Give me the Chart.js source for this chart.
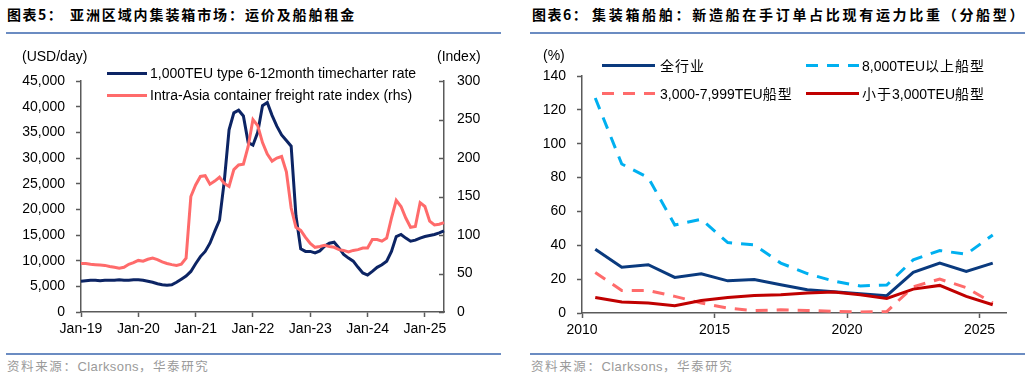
<!DOCTYPE html>
<html><head><meta charset="utf-8">
<script src="https://cdn.jsdelivr.net/npm/chart.js@4.4.1/dist/chart.umd.min.js"></script>
<style>
body{margin:0;width:1030px;height:378px;position:relative;background:#fff;font-family:"Liberation Sans",Arial,sans-serif;overflow:hidden}
.t{position:absolute;font-family:"Noto Sans CJK SC";font-weight:bold;font-size:14px;letter-spacing:1.9px;color:#000;top:4px;line-height:20px;white-space:nowrap}
.hr{position:absolute;height:2px;background:#6b8cc2}
.src{position:absolute;top:357px;font-size:12.5px;line-height:18px;color:#9a9a9a;font-family:"Noto Sans CJK SC";letter-spacing:1.6px;white-space:nowrap}
.ax{position:absolute;font-size:14px;line-height:16px;color:#000;white-space:nowrap}
.lg{position:absolute;font-size:14px;line-height:16px;color:#000;white-space:nowrap}
.cj{font-family:"Noto Sans CJK SC";letter-spacing:1px}
.sw{position:absolute;height:3px}
canvas{position:absolute}
</style>
</head>
<body>
<div class="t" style="left:7px;letter-spacing:1.5px">图表5：</div>
<div class="t" style="left:70px">亚洲区域内集装箱市场：运价及船舶租金</div>
<div class="t" style="left:532px;letter-spacing:1.5px">图表6：</div>
<div class="t" style="left:592px;letter-spacing:2.7px">集装箱船舶：新造船在手订单占比现有运力比重（分船型）</div>
<div class="hr" style="left:6px;width:495px;top:32px"></div>
<div class="hr" style="left:530px;width:495px;top:32px"></div>
<div class="hr" style="left:6px;width:495px;top:353px;height:1.5px"></div>
<div class="hr" style="left:530px;width:495px;top:353px;height:1.5px"></div>
<div class="src" style="left:7px">资料来源：<span style="font-family:'Liberation Sans';letter-spacing:0.4px;font-size:13px">Clarksons</span>，华泰研究</div>
<div class="src" style="left:531px">资料来源：<span style="font-family:'Liberation Sans';letter-spacing:0.4px;font-size:13px">Clarksons</span>，华泰研究</div>

<canvas id="c1" width="515" height="378" style="left:0;top:0"></canvas>
<canvas id="c2" width="515" height="378" style="left:515px;top:0"></canvas>

<div class="ax" style="left:22px;top:48px">(USD/day)</div>
<div class="ax" style="left:437px;top:48px">(Index)</div>
<div class="ax" style="left:543px;top:47px">(%)</div>

<div class="sw" style="left:107px;width:40px;top:72px;background:#0c2464"></div>
<div class="lg" style="left:150px;top:65px">1,000TEU type 6-12month timecharter rate</div>
<div class="sw" style="left:107px;width:40px;top:94px;background:#ff6b6b"></div>
<div class="lg" style="left:150px;top:87px">Intra-Asia container freight rate index (rhs)</div>

<div class="sw" style="left:602px;width:53px;top:64px;background:#0a3a7e"></div>
<div class="lg cj" style="left:660px;top:57px">全行业</div>
<div class="sw" style="left:806px;width:53px;top:64px;background:repeating-linear-gradient(to right,#00b0f0 0 12px,transparent 12px 21px)"></div>
<div class="lg" style="left:862px;top:57px">8,000TEU<span class="cj">以上船型</span></div>
<div class="sw" style="left:602px;width:53px;top:92px;background:repeating-linear-gradient(to right,#ff6b6b 0 12px,transparent 12px 21px)"></div>
<div class="lg" style="left:660px;top:85px">3,000-7,999TEU<span class="cj">船型</span></div>
<div class="sw" style="left:806px;width:53px;top:92px;background:#c00000"></div>
<div class="lg" style="left:862px;top:85px"><span class="cj">小于</span>3,000TEU<span class="cj">船型</span></div>

<script>
// ---------- Chart 5 data ----------
const months = [
 "Jan-19","Feb-19","Mar-19","Apr-19","May-19","Jun-19","Jul-19","Aug-19","Sep-19","Oct-19","Nov-19","Dec-19",
 "Jan-20","Feb-20","Mar-20","Apr-20","May-20","Jun-20","Jul-20","Aug-20","Sep-20","Oct-20","Nov-20","Dec-20",
 "Jan-21","Feb-21","Mar-21","Apr-21","May-21","Jun-21","Jul-21","Aug-21","Sep-21","Oct-21","Nov-21","Dec-21",
 "Jan-22","Feb-22","Mar-22","Apr-22","May-22","Jun-22","Jul-22","Aug-22","Sep-22","Oct-22","Nov-22","Dec-22",
 "Jan-23","Feb-23","Mar-23","Apr-23","May-23","Jun-23","Jul-23","Aug-23","Sep-23","Oct-23","Nov-23","Dec-23",
 "Jan-24","Feb-24","Mar-24","Apr-24","May-24","Jun-24","Jul-24","Aug-24","Sep-24","Oct-24","Nov-24","Dec-24",
 "Jan-25","Feb-25","Mar-25","Apr-25","May-25"];
const monthTickLabels = ["Jan-19","Jan-20","Jan-21","Jan-22","Jan-23","Jan-24","Jan-25"];
const charterRate = [
 6000,6100,6200,6200,6100,6200,6200,6200,6300,6200,6200,6300,
 6300,6200,6000,5800,5500,5300,5200,5300,5800,6400,7000,7900,
 9400,10800,11800,13400,15700,17900,25500,35500,38800,39300,38200,33000,
 32500,35000,40200,40800,38300,36200,34500,33400,32300,18800,12300,11800,
 11800,11500,11900,12800,13400,13600,12500,11200,10500,9900,8700,7600,
 7200,7900,8700,9200,9900,11800,14700,15100,14400,13800,14000,14400,
 14700,14900,15100,15400,15800];
const freightIndex = [
 63,63,62,61.5,61,60.5,59,58,57,58,62,64,
 67,66,68.5,70,68,65,63,61.5,60.5,62,70,150,
 165,176,177,166,170,175,167,163,185,191,192,215,
 250,242,220,205,196,200,202,182,135,110,106,97,
 89,84,85,86.5,85,84,81,80,78,80,81,83,
 83,94,94,92,96,122,145,137,122,110,111,142,
 137,118,113,114,116];
const leftTicks = [0,5000,10000,15000,20000,25000,30000,35000,40000,45000];
const rightTicks = [0,50,100,150,200,250,300];

// ---------- Chart 6 data ----------
const years = [2010,2011,2012,2013,2014,2015,2016,2017,2018,2019,2020,2021,2022,2023,2024,2025];
const yearTicks = [2010,2015,2020,2025];
const allIndustry = [37.7,27.1,28.5,21.0,23.2,19.0,19.8,16.7,13.7,12.5,11.4,10.2,24.0,29.5,24.5,29.5];
const over8000 = [127,88,80,52,55.4,41.6,40.2,29.5,23.3,18.8,16.0,16.5,31.4,36.9,34.7,46.1];
const mid3000to7999 = [23.9,13.3,13.3,9.8,5.9,2.9,1.4,1.9,1.5,1.0,0.6,0.8,15.5,20.0,15.0,5.9];
const under3000 = [9.2,6.5,5.9,4.3,7.4,9.2,10.4,10.8,11.8,12.4,10.8,8.6,14.1,16.3,9.8,4.9];
const pctTicks = [0,20,40,60,80,100,120,140];

const AX = '#5a5a5a';
const F14 = {family:"'Liberation Sans', Arial, sans-serif", size:14};

const innerTicks = {
  id:'innerTicks',
  afterDraw(chart){
    const s = chart.scales.y1; if(!s) return;
    const c = chart.ctx; c.save(); c.strokeStyle = AX; c.lineWidth = 1.5;
    s.ticks.forEach(t=>{ const y = Math.round(s.getPixelForValue(t.value))+0.5;
      c.beginPath(); c.moveTo(s.left-5, y); c.lineTo(s.left, y); c.stroke(); });
    c.restore();
  }
};

new Chart(document.getElementById('c1'), {
  type:'line',
  data:{ labels: months, datasets:[
    {label:'1,000TEU type 6-12month timecharter rate', data:charterRate, yAxisID:'y', borderColor:'#0c2464', borderWidth:3, pointRadius:0, tension:0, order:1},
    {label:'Intra-Asia container freight rate index (rhs)', data:freightIndex, yAxisID:'y1', borderColor:'#ff6b6b', borderWidth:3, pointRadius:0, tension:0, order:0}
  ]},
  plugins:[innerTicks],
  options:{
    responsive:false, animation:false,
    layout:{padding:{top:81, left:0, right:0, bottom:0}},
    plugins:{legend:{display:false}, tooltip:{enabled:false}},
    scales:{
      x:{ type:'category', offset:false,
          grid:{display:true, drawOnChartArea:false, tickLength:5, tickWidth:1.5,
                tickColor:(ctx)=> (ctx.tick && monthTickLabels.includes(months[ctx.index])) ? AX : 'rgba(0,0,0,0)'},
          border:{color:AX, width:1.5},
          ticks:{autoSkip:false, maxRotation:0, minRotation:0, padding:4, color:'#000', font:F14,
                 callback:(v,i)=> monthTickLabels.includes(months[i]) ? months[i] : ''},
          afterFit:(s)=>{ s.height = 66; } },
      y:{ position:'left', min:0, max:45000,
          grid:{display:true, drawOnChartArea:false, tickLength:5, tickWidth:1.5, tickColor:AX},
          border:{color:AX, width:1.5},
          afterBuildTicks:(s)=>{ s.ticks = leftTicks.map(v=>({value:v})); },
          ticks:{padding:11, color:'#000', font:F14, callback:(v)=> v.toLocaleString('en-US')},
          afterFit:(s)=>{ s.width = 81; } },
      y1:{ position:'right', min:0, max:300,
          grid:{display:true, drawOnChartArea:false, drawTicks:false},
          border:{color:AX, width:1.5},
          afterBuildTicks:(s)=>{ s.ticks = rightTicks.map(v=>({value:v})); },
          ticks:{padding:13, color:'#000', font:F14, callback:(v)=> String(v)},
          afterFit:(s)=>{ s.width = 71; } }
    }
  }
});

const mk = (arr)=> arr.map((v,i)=>({x: years[i] + 0.5, y: v}));

new Chart(document.getElementById('c2'), {
  type:'line',
  data:{ datasets:[
    {label:'全行业', data:mk(allIndustry), borderColor:'#0a3a7e', borderWidth:3, pointRadius:0, tension:0, order:3},
    {label:'8,000TEU以上船型', data:mk(over8000), borderColor:'#00b0f0', borderWidth:3, borderDash:[12,9], pointRadius:0, tension:0, order:2},
    {label:'3,000-7,999TEU船型', data:mk(mid3000to7999), borderColor:'#ff6b6b', borderWidth:3, borderDash:[12,9], pointRadius:0, tension:0, order:1},
    {label:'小于3,000TEU船型', data:mk(under3000), borderColor:'#c00000', borderWidth:3, pointRadius:0, tension:0, order:0}
  ]},
  options:{
    responsive:false, animation:false,
    layout:{padding:{top:76, left:0, right:24, bottom:0}},
    plugins:{legend:{display:false}, tooltip:{enabled:false}},
    scales:{
      x:{ type:'linear', min:2010, max:2026,
          grid:{display:true, drawOnChartArea:false, tickLength:5, tickWidth:1.5, tickColor:AX},
          border:{color:AX, width:1.5},
          afterBuildTicks:(s)=>{ s.ticks = yearTicks.map(v=>({value:v})); },
          ticks:{padding:4, maxRotation:0, color:'#000', font:F14, callback:(v)=> String(v)},
          afterFit:(s)=>{ s.height = 378-313; } },
      y:{ position:'left', min:0, max:140,
          grid:{display:true, drawOnChartArea:false, tickLength:5, tickWidth:1.5, tickColor:AX},
          border:{color:AX, width:1.5},
          afterBuildTicks:(s)=>{ s.ticks = pctTicks.map(v=>({value:v})); },
          ticks:{padding:11, color:'#000', font:F14, callback:(v)=> String(v)},
          afterFit:(s)=>{ s.width = 67; } }
    }
  }
});
</script>
</body></html>
